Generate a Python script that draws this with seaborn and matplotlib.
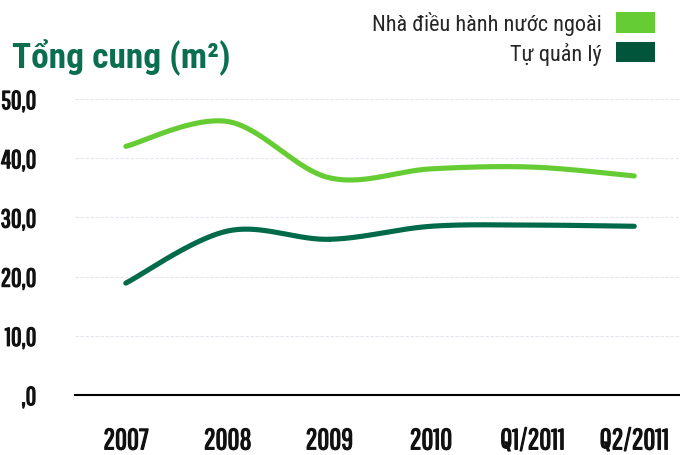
import numpy as np
import pandas as pd
import seaborn as sns
import matplotlib.pyplot as plt
import matplotlib.patheffects as pe
from matplotlib.patches import Patch

periods = ['2007', '2008', '2009', '2010', 'Q1/2011', 'Q2/2011']
foreign = [42.0, 46.2, 36.7, 38.2, 38.5, 37.0]
self_managed = [18.9, 27.7, 26.3, 28.5, 28.7, 28.5]
y_ticks = [0, 10, 20, 30, 40, 50]
y_labels = [',0', '10,0', '20,0', '30,0', '40,0', '50,0']
series_names = ['Nhà điều hành nước ngoài', 'Tự quản lý']
light_green = '#66cc33'
dark_green = '#00553a'


def smooth(vals, steps=40):
    # catmull-rom style smoothing like the spreadsheet "smoothed line"
    p = np.column_stack([np.arange(len(vals)), vals]).astype(float)
    p = np.vstack([p[0], p, p[-1]])
    xs, ys = [], []
    for i in range(1, len(p) - 2):
        p0, p1, p2, p3 = p[i - 1], p[i], p[i + 1], p[i + 2]
        t = np.linspace(0, 1, steps)[:, None]
        pts = 0.5 * ((2 * p1) + (-p0 + p2) * t + (2 * p0 - 5 * p1 + 4 * p2 - p3) * t ** 2
                     + (-p0 + 3 * p1 - 3 * p2 + p3) * t ** 3)
        xs.extend(pts[:, 0])
        ys.extend(pts[:, 1])
    return xs, ys


frames = []
for name, vals in zip(series_names, [foreign, self_managed]):
    xs, ys = smooth(vals)
    frames.append(pd.DataFrame({'x': xs, 'y': ys, 'series': name}))
df = pd.concat(frames, ignore_index=True)

sns.set_theme(style='white')
plt.rcParams['font.family'] = ['Roboto Condensed', 'DejaVu Sans']
tick_font = ['Pathway Gothic One', 'DejaVu Sans']
thicken = [pe.withStroke(linewidth=0.9, foreground='#111111')]

fig = plt.figure(figsize=(6.8, 4.56), dpi=100)
ax = fig.add_axes([75 / 680, 60 / 456, 605 / 680, 296 / 456])

sns.lineplot(data=df, x='x', y='y', hue='series', estimator=None, sort=False,
             palette=[light_green, '#006a4a'], linewidth=3.7, legend=False, ax=ax)
for ln in ax.lines:
    ln.set_solid_capstyle('round')

ax.set_xlim(-0.5, 5.45)
ax.set_ylim(0, 50)
ax.set_xlabel('')
ax.set_ylabel('')

ax.set_yticks(y_ticks)
ax.set_yticklabels(y_labels, fontsize=18.5, family=tick_font, color='#111111')
ax.tick_params(axis='y', length=0, pad=28)
for y in y_ticks[1:]:
    ax.axhline(y, color='#e4e4ef', lw=0.8, ls=(0, (3, 1.5)), zorder=0)

ax.set_xticks(np.arange(len(periods)) - 0.5)
ax.set_xticklabels([])
ax.set_xticks(np.arange(len(periods)), minor=True)
ax.set_xticklabels(periods, minor=True, fontsize=21, family=tick_font, color='#111111')
ax.tick_params(axis='x', which='major', direction='out', length=8, width=1, color='#888888')
ax.tick_params(axis='x', which='minor', length=0, pad=24)
for lab in ax.get_yticklabels() + ax.get_xticklabels(minor=True):
    lab.set_path_effects(thicken)

for side in ['top', 'right', 'left']:
    ax.spines[side].set_visible(False)
ax.spines['bottom'].set_color('black')
ax.spines['bottom'].set_linewidth(1.5)

fig.text(12 / 680, 1 - 67 / 456, 'Tổng cung (m²)', fontsize=25.5, fontweight='bold',
         color='#0b6e50', ha='left', va='baseline')

handles = [Patch(facecolor=light_green, edgecolor='none'), Patch(facecolor=dark_green, edgecolor='none')]
fig.legend(handles, series_names, loc='upper right', bbox_to_anchor=(655 / 680, 1 - 12 / 456),
           frameon=False, markerfirst=False, fontsize=16, handlelength=1.75, handleheight=1.05,
           handletextpad=0.65, labelspacing=0.3, borderpad=0, borderaxespad=0)

fig.savefig('out.png', dpi=100)
